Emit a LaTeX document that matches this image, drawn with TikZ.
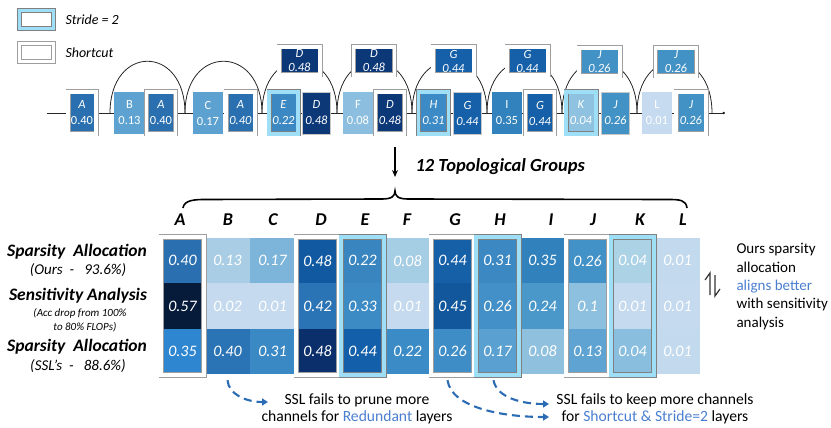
\documentclass[tikz,border=0pt]{standalone}
\usepackage{fontspec}
\setmainfont{Carlito}
\usetikzlibrary{arrows.meta,calc}
\definecolor{strideblue}{HTML}{9EDFF7}
\definecolor{tblue}{HTML}{4A7ED0}
\definecolor{ablue}{HTML}{2C6CB4}
\definecolor{kA}{HTML}{2A70B0}
\definecolor{kB}{HTML}{5EA2D2}
\definecolor{kC}{HTML}{5DA1D1}
\definecolor{kD}{HTML}{0C3878}
\definecolor{kE}{HTML}{3B88C3}
\definecolor{kF}{HTML}{8CBFDF}
\definecolor{kG}{HTML}{1560A8}
\definecolor{kH}{HTML}{3D8BC6}
\definecolor{kI}{HTML}{3182BD}
\definecolor{kJ}{HTML}{4292C6}
\definecolor{kK}{HTML}{8FC2E0}
\definecolor{kL}{HTML}{C6DBEF}
\tikzset{
  cell/.style={minimum width=45pt, minimum height=45.33pt, inner sep=0pt, text=white,
    font=\fontsize{16}{18}\selectfont\itshape},
  scframe/.style={draw=black!38, double=white, double distance=3.2pt, line width=0.9pt},
  stframe/.style={draw=black!50, double=strideblue, double distance=3.2pt, line width=0.9pt},
  gscframe/.style={scframe, double distance=3.8pt},
  gstframe/.style={stframe, double distance=3.8pt},
  chainbox/.style={minimum height=42pt, inner sep=0pt, text=white, align=center,
    font=\fontsize{12.5}{16}\selectfont},
  topbox/.style={minimum height=28pt, minimum width=41pt, inner sep=0pt, text=white, align=center,
    font=\fontsize{12.5}{14}\selectfont\itshape},
  plainsh/.style={draw=black!22, line width=0.8pt},
  conn/.style={draw=black!85, line width=0.8pt},
  collabel/.style={font=\fontsize{18}{20}\selectfont\bfseries\itshape},
  rowhead/.style={font=\fontsize{17.5}{20}\selectfont\bfseries\itshape},
  rowsub/.style={font=\fontsize{15}{17}\selectfont\itshape},
  dasharrow/.style={draw=ablue, line width=2.1pt, dash pattern=on 8pt off 5pt,
    -{Triangle[length=6pt,width=7pt]}},
  note/.style={font=\fontsize{15.6}{17.5}\selectfont, align=center},
}
\begin{document}
\begin{tikzpicture}[x=1pt,y=-1pt]
\useasboundingbox (0,0) rectangle (831,428);

% ---------- legend ----------
\node[stframe, fill=white, minimum width=34pt, minimum height=18pt, inner sep=0pt] (legS) at (36.5,19.5) {};
\node[anchor=west, font=\fontsize{14}{16}\selectfont\itshape] (legSt) at (62,20) {Stride = 2};
\node[scframe, fill=white, minimum width=34pt, minimum height=18pt, inner sep=0pt] (legC) at (36.5,52.5) {};
\node[anchor=west, font=\fontsize{14}{16}\selectfont\itshape] (legCt) at (62,53) {Shortcut};

% ---------- top chain ----------
\coordinate (c0) at (47,113);
\coordinate (cend) at (725,113);
\coordinate (j0) at (110,113);
\coordinate (j1) at (185,113);
\coordinate (j2) at (262,113);
\coordinate (j3) at (337,113);
\coordinate (j4) at (412,113);
\coordinate (j5) at (487,113);
\coordinate (j6) at (562,113);
\coordinate (j7) at (637,113);
\coordinate (j8) at (712,113);
\draw[conn, -{Circle[length=2.5pt]}] (c0) -- (cend);
\foreach \p/\q in {j0/j1,j1/j2,j2/j3,j3/j4,j4/j5,j5/j6,j6/j7,j7/j8}{
  \draw[conn] (\p) .. controls +(0,-69) and +(0,-69) .. (\q);
}

\node[chainbox, scframe, fill=kA, minimum width=28pt] (tA1) at (82,113) {\textit{A}\\0.40};
\node[chainbox, fill=kB, minimum width=31pt] (tB) at (129.5,113) {B\\0.13};
\node[chainbox, scframe, fill=kA, minimum width=29pt] (tA2) at (161,113) {\textit{A}\\0.40};
\node[chainbox, fill=kC, minimum width=30pt] (tC) at (208,113) {C\\0.17};
\node[chainbox, scframe, fill=kA, minimum width=29pt] (tA3) at (240.5,113) {\textit{A}\\\textit{0.40}};
\node[chainbox, stframe, fill=kE, minimum width=29pt] (tE) at (283.5,113) {\textit{E}\\\textit{0.22}};
\node[chainbox, plainsh, fill=kD, minimum width=28pt] (tD1) at (316.5,113) {\textit{D}\\\textit{0.48}};
\node[chainbox, fill=kF, minimum width=30pt] (tF) at (358,113) {F\\0.08};
\node[chainbox, scframe, fill=kD, minimum width=29pt] (tD2) at (390,113) {\textit{D}\\\textit{0.48}};
\node[chainbox, stframe, fill=kH, minimum width=30pt] (tH) at (433.5,113) {\textit{H}\\\textit{0.31}};
\node[chainbox, plainsh, fill=kG, minimum width=28pt] (tG1) at (467.5,113) {\textit{G}\\\textit{0.44}};
\node[chainbox, fill=kI, minimum width=30pt] (tI) at (507,113) {I\\0.35};
\node[chainbox, scframe, fill=kG, minimum width=29pt] (tG2) at (540,113) {\textit{G}\\\textit{0.44}};
\node[chainbox, stframe, fill=kK, minimum width=30pt] (tK) at (581,113) {\textit{K}\\\textit{0.04}};
\node[chainbox, plainsh, fill=kJ, minimum width=28pt] (tJ1) at (615.5,113) {\textit{J}\\\textit{0.26}};
\node[chainbox, fill=kL, minimum width=30pt] (tL) at (657,113) {L\\0.01};
\node[chainbox, scframe, fill=kJ, minimum width=30pt] (tJ2) at (691,113) {\textit{J}\\\textit{0.26}};

\node[topbox, scframe, fill=kD] (uD1) at (299.5,61) {D\\0.48};
\node[topbox, scframe, fill=kD] (uD2) at (374,61) {D\\0.48};
\node[topbox, scframe, fill=kG] (uG1) at (453.5,61) {G\\0.44};
\node[topbox, scframe, fill=kG] (uG2) at (527.5,61) {G\\0.44};
\node[topbox, scframe, fill=kJ] (uJ1) at (599.5,62) {J\\0.26};
\node[topbox, scframe, fill=kJ] (uJ2) at (676,62) {J\\0.26};

% ---------- arrow, title, brace ----------
\coordinate (arT) at (395,147);
\coordinate (arB) at (395,177);
\draw[black, line width=1.3pt, -{Stealth[length=7pt,width=6pt]}] (arT) -- (arB);
\node[anchor=west, font=\fontsize{18.5}{20}\selectfont\bfseries\itshape] (title) at (412,167) {12 Topological Groups};
\coordinate (brL) at (183,208);
\coordinate (brT) at (395,191);
\coordinate (brR) at (687,208);
\draw[black, line width=1.6pt] (brL) .. controls +(1,-8) and +(-10,0) .. (205,199.5) -- (382,199)
  .. controls +(10,0) and +(0,5) .. (brT) .. controls +(0,5) and +(-10,0) .. (408,199) -- (668,199.5)
  .. controls +(12,0) and +(-1,-8) .. (brR);

% ---------- grid ----------
\foreach \l/\xl/\va/\ca/\vb/\cb/\vc/\cc [count=\i from 0] in {
  A/180/0.40/2A70B0/0.57/061A3A/0.35/2F86D0,
  B/228/0.13/A9CDE5/0.02/C5DAEE/0.40/2A73B4,
  C/273/0.17/7DB4DA/0.01/C5DAEE/0.31/3A89C4,
  D/321/0.48/115AA2/0.42/2A74B6/0.48/0B2F6B,
  E/365/0.22/3885C0/0.33/3D8BC5/0.44/145FA9,
  F/407/0.08/A5CDE4/0.01/C5DAEE/0.22/3B8BC6,
  G/455/0.44/1660A8/0.45/12579C/0.26/3F8DC6,
  H/500/0.31/3B88C3/0.26/4290C7/0.17/5AA0D0,
  I/551/0.35/3181BD/0.24/4A98C9/0.08/8FC1DF,
  J/593/0.26/4291C7/0.1/8DC0DE/0.13/5EA3D2,
  K/640/0.04/ACD2E6/0.01/C5DAEE/0.04/89BEDF,
  L/683/0.01/C2D9EE/0.01/C5DAEE/0.01/C2D9EE}{
  \definecolor{ga}{HTML}{\ca}\definecolor{gb}{HTML}{\cb}\definecolor{gc}{HTML}{\cc}
  \node[cell, fill=ga] (r1\l) at ({182.5+45*\i},260.67) {\va};
  \node[cell, fill=gb] (r2\l) at ({182.5+45*\i},306) {\vb};
  \node[cell, fill=gc] (r3\l) at ({182.5+45*\i},351.33) {\vc};
  \node[collabel] (h\l) at (\xl,220) {\l};
}
\foreach \l in {A,D,G,J}{
  \draw[gscframe] ($(r1\l.north west)+(1.5,-1)$) rectangle ($(r3\l.south east)+(-1.5,1)$);
}
\foreach \l in {E,H,K}{
  \draw[gstframe] ($(r1\l.north west)+(1.5,-1)$) rectangle ($(r3\l.south east)+(-1.5,1)$);
}

% ---------- row labels ----------
\node[rowhead] (lab1) at (77,252) {Sparsity\ \ Allocation};
\node[rowsub] (lab1s) at (78,270) {(Ours\ \ -\ \ \ 93.6\%)};
\node[rowhead] (lab2) at (78,295.5) {Sensitivity Analysis};
\node[font=\fontsize{11}{13.5}\selectfont\itshape, align=center] (lab2s) at (80,320) {(Acc drop from 100\%\\\ \ \ \ to 80\% FLOPs)};
\node[rowhead] (lab3) at (77,347) {Sparsity\ \ Allocation};
\node[rowsub] (lab3s) at (78,366) {(SSL’s\ \ -\ \ \ 88.6\%)};

% ---------- right note ----------
\coordinate (h1a) at (710,295);
\coordinate (h1b) at (710,273);
\coordinate (h2a) at (715,275);
\coordinate (h2b) at (715,296);
\draw[black!80, line width=1.2pt, line join=miter] (h1a) -- (h1b) -- ++(-5,7);
\draw[black!80, line width=1.2pt, line join=miter] (h2a) -- (h2b) -- ++(5,-7);
\node[anchor=north west, font=\fontsize{15}{18.3}\selectfont, align=left] (rnote) at (733,240)
  {Ours sparsity\\allocation\\\textcolor{tblue}{aligns better}\\with sensitivity\\analysis};

% ---------- bottom notes ----------
\node[note] (n1) at (357,409) {SSL fails to prune more\\channels for \textcolor{tblue}{Redundant} layers};
\node[note] (n2) at (655,409) {SSL fails to keep more channels\\for \textcolor{tblue}{Shortcut \& Stride=2} layers};
\coordinate (a1s) at ($(r3B.south)+(0,6)$);
\coordinate (a1e) at (268,402);
\coordinate (a2s) at ($(r3G.south)+(-5,6)$);
\coordinate (a2e) at (549,417);
\coordinate (a3s) at ($(r3H.south)+(-4,6)$);
\coordinate (a3e) at (549,404);
\draw[dasharrow] (a1s) .. controls +(1,14) and +(-22,0) .. (a1e);
\draw[dasharrow] (a2s) .. controls +(4,28) and +(-45,0) .. (a2e);
\draw[dasharrow] (a3s) .. controls +(3,17) and +(-28,0) .. (a3e);
\end{tikzpicture}
\end{document}
